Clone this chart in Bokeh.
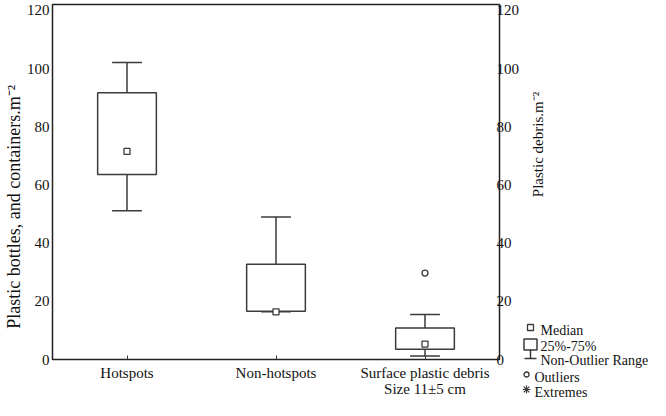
import math
from bokeh.plotting import figure
from bokeh.layouts import row
from bokeh.models import LinearAxis, FixedTicker, Range1d
from bokeh.core.properties import value
from bokeh.embed import file_html
from bokeh.resources import INLINE

# ---- data ----
categories = ["Hotspots", "Non-hotspots", "Surface plastic debris\nSize 11\u00b15 cm"]
whisker_low = [51.1, 16.4, 1.2]
q1 = [63.6, 16.6, 3.5]
median = [71.5, 16.4, 5.3]
q3 = [91.7, 32.7, 10.8]
whisker_high = [102.1, 49.0, 15.5]
outlier_cat = [2]
outlier_val = [29.7]
y_ticks = [0, 20, 40, 60, 80, 100, 120]
left_title = "Plastic bottles, and containers.m\u207b\u00b2"
right_title = "Plastic debris.m\u207b\u00b2"
legend_labels = ["Median", "25%-75%", "Non-Outlier Range", "Outliers", "Extremes"]

FONT = "Liberation Serif"
LC = "#3a3a3a"
TC = "#111111"
NB = "\u00a0"

H = 400
WM, WS = 522, 128
YMAX = 122

p = figure(width=WM, height=H, output_backend="svg", toolbar_location=None,
           x_range=Range1d(-0.5, 2.5), y_range=Range1d(0, YMAX),
           min_border_left=44, min_border_right=20, min_border_top=4, min_border_bottom=30)
p.frame_align = False
p.grid.visible = False
p.outline_line_color = "#222222"
p.outline_line_width = 1.5

xs = list(range(len(categories)))
bw = 0.394
cw = 0.2

# whiskers
p.segment(x0=xs, y0=q3, x1=xs, y1=whisker_high, line_color=LC, line_width=1.5)
p.segment(x0=xs, y0=q1, x1=xs, y1=whisker_low, line_color=LC, line_width=1.5)
p.segment(x0=[x - cw / 2 for x in xs], y0=whisker_high, x1=[x + cw / 2 for x in xs], y1=whisker_high,
          line_color=LC, line_width=1.5)
p.segment(x0=[x - cw / 2 for x in xs], y0=whisker_low, x1=[x + cw / 2 for x in xs], y1=whisker_low,
          line_color=LC, line_width=1.5)
# boxes
p.vbar(x=xs, width=bw, bottom=q1, top=q3, fill_color="white", line_color=LC, line_width=1.5)
# medians and outliers
p.scatter(x=xs, y=median, marker="square", size=6, fill_color="white", line_color=LC, line_width=1.3)
p.scatter(x=outlier_cat, y=outlier_val, marker="circle", size=6, fill_color="white", line_color=LC,
          line_width=1.3)

# bottom axis
xa = p.xaxis[0]
xa.ticker = FixedTicker(ticks=xs)
xa.major_label_overrides = {i: c for i, c in enumerate(categories)}
xa.major_label_text_font = FONT
xa.major_label_text_font_size = "15px"
xa.major_label_text_color = TC
xa.major_label_text_line_height = 1.05
xa.major_tick_in = 4
xa.major_tick_out = 0
xa.major_tick_line_color = LC
xa.minor_tick_line_color = None
xa.axis_line_color = None
xa.major_label_standoff = 5

# left axis
ya = p.yaxis[0]
ya.ticker = FixedTicker(ticks=y_ticks)
ya.axis_label = left_title + NB * 11
ya.axis_label_text_font = FONT
ya.axis_label_text_font_style = "normal"
ya.axis_label_text_font_size = "18px"
ya.axis_label_text_color = TC
ya.axis_label_standoff = 0
ya.major_label_standoff = 3

# right axis
ra = LinearAxis(ticker=FixedTicker(ticks=y_ticks))
p.add_layout(ra, "right")
ra.major_label_standoff = -3

for ax in (ya, ra):
    ax.major_label_text_font = FONT
    ax.major_label_text_font_size = "15px"
    ax.major_label_text_color = TC
    ax.major_tick_in = 0
    ax.major_tick_out = 0
    ax.minor_tick_in = 0
    ax.minor_tick_out = 0
    ax.major_tick_line_color = None
    ax.minor_tick_line_color = None
    ax.axis_line_color = None

# ---- side panel: right-hand title and legend (pixel coordinates from top-left) ----
s = figure(width=WS, height=H, output_backend="svg", toolbar_location=None,
           x_range=Range1d(0, WS), y_range=Range1d(H, 0), min_border=0,
           x_axis_location=None, y_axis_location=None)
s.frame_align = False
s.grid.visible = False
s.outline_line_color = None

s.text(x=[15], y=[144], text=[right_title], angle=math.pi / 2, text_align="center",
       text_baseline="middle", text_font=value(FONT), text_font_size="15px", text_color=TC)

tx = [18, 18, 18, 12, 12]
ty = [330, 346, 360, 377, 392]
s.text(x=tx, y=ty, text=legend_labels, text_align="left", text_baseline="middle",
       text_font=value(FONT), text_font_size="14px", text_color=TC)

s.scatter(x=[8], y=[327], marker="square", size=6, fill_color="white", line_color=LC, line_width=1.3)
s.rect(x=[8], y=[344], width=13, height=11, fill_color="white", line_color=LC, line_width=1.5)
s.segment(x0=[8, 2], y0=[349, 358], x1=[8, 14], y1=[358, 358], line_color=LC, line_width=1.5)
s.scatter(x=[4], y=[374], marker="circle", size=5, fill_color="white", line_color=LC, line_width=1.3)
s.scatter(x=[4], y=[389], marker="asterisk", size=8, line_color=LC, line_width=1.2)

layout = row(p, s, spacing=0)
open("out.html", "w").write(file_html(layout, INLINE))
